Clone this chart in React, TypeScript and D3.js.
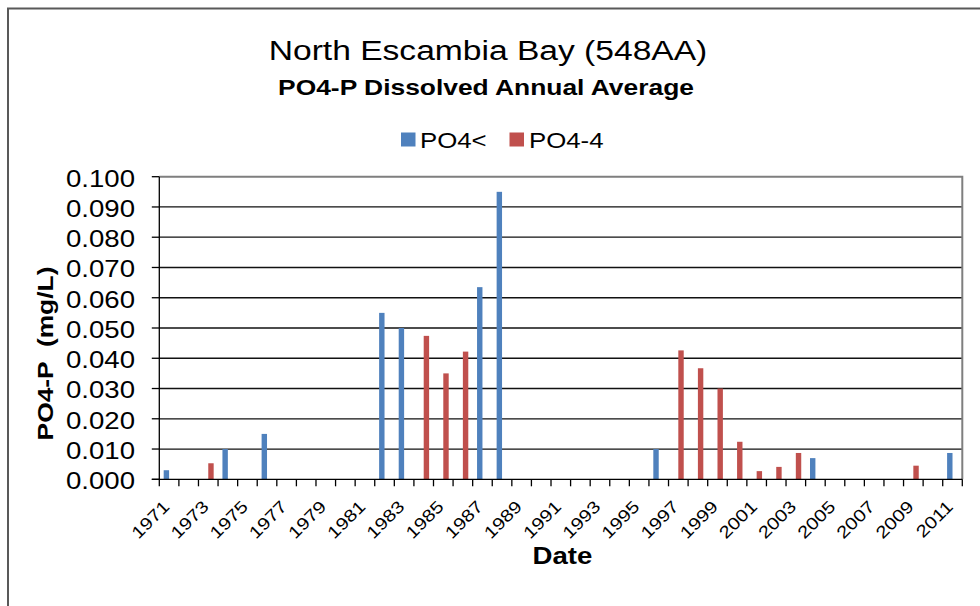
import { useEffect, useRef } from "react";
import * as d3 from "d3";

// categories: one per year, every other year labelled
const YEARS = [
  "1971", "1972", "1973", "1974", "1975", "1976", "1977", "1978", "1979", "1980",
  "1981", "1982", "1983", "1984", "1985", "1986", "1987", "1988", "1989", "1990",
  "1991", "1992", "1993", "1994", "1995", "1996", "1997", "1998", "1999", "2000",
  "2001", "2002", "2003", "2004", "2005", "2006", "2007", "2008", "2009", "2010", "2011",
];
const X_TICK_LABELS = [
  "1971", "1973", "1975", "1977", "1979", "1981", "1983", "1985", "1987", "1989", "1991",
  "1993", "1995", "1997", "1999", "2001", "2003", "2005", "2007", "2009", "2011",
];
const SERIES = ["PO4<", "PO4-4"];

// PO4< (below detection) annual averages
const LT_YEARS = ["1971", "1974", "1976", "1982", "1983", "1987", "1988", "1996", "2004", "2011"];
const LT_VALUES = [0.003, 0.01, 0.015, 0.055, 0.05, 0.0635, 0.095, 0.01, 0.007, 0.0087];

// PO4-4 annual averages
const P4_YEARS = ["1973", "1984", "1985", "1986", "1997", "1998", "1999", "2000", "2001", "2002", "2003", "2009"];
const P4_VALUES = [0.0053, 0.0474, 0.035, 0.0422, 0.0426, 0.0367, 0.03, 0.0124, 0.0027, 0.0041, 0.0087, 0.0045];

const Y_TICKS = [0, 0.01, 0.02, 0.03, 0.04, 0.05, 0.06, 0.07, 0.08, 0.09, 0.1];

const W = 980;
const H = 606;
const PLOT = { left: 159.3, right: 962.3, top: 176.7, bottom: 479.3 };
const COLORS: Record<string, string> = { "PO4<": "#4f81bd", "PO4-4": "#c0504d" };
const FONT = "'Liberation Sans', Arial, sans-serif";
// glyph runs in the source are wider than Arial at the same cap height
const SX = 1.2;

export default function App() {
  const svgRef = useRef<SVGSVGElement | null>(null);

  useEffect(() => {
    document.body.style.margin = "0";
    const svgEl = svgRef.current;
    if (!svgEl) return;
    const svg = d3.select(svgEl);
    svg.selectAll("*").remove();

    const x0 = d3.scaleBand<string>().domain(YEARS).range([PLOT.left, PLOT.right]).paddingInner(0);
    const x1 = d3
      .scaleBand<string>()
      .domain(SERIES)
      .range([0, x0.bandwidth()])
      .paddingInner(0)
      .paddingOuter(0.81);
    const y = d3.scaleLinear().domain([0, 0.1]).range([PLOT.bottom, PLOT.top]);

    const text = (
      g: d3.Selection<SVGGElement, unknown, null, undefined>,
      s: string,
      tx: number,
      ty: number,
      opts: { size: number; anchor?: string; weight?: string | number; rotate?: number }
    ) =>
      g
        .append("text")
        .text(s)
        .attr("transform", `translate(${tx},${ty}) rotate(${opts.rotate ?? 0}) scale(${SX},1)`)
        .attr("text-anchor", opts.anchor ?? "start")
        .attr("font-family", FONT)
        .attr("font-size", opts.size)
        .attr("font-weight", opts.weight ?? 400)
        .attr("fill", "#000");

    const root = svg.append("g");

    // outer chart frame (runs off the right and bottom edges)
    root
      .append("path")
      .attr("d", `M8,${H + 2} V8.5 H${W + 2}`)
      .attr("fill", "none")
      .attr("stroke", "#595959")
      .attr("stroke-width", 2);

    // titles
    text(root, "North Escambia Bay (548AA)", 488, 60, { size: 28, anchor: "middle" });
    text(root, "PO4-P Dissolved Annual Average", 486, 95, { size: 22, anchor: "middle", weight: 700 });

    // legend
    const legend = [
      { name: "PO4<", sx: 401, tx: 420 },
      { name: "PO4-4", sx: 509.5, tx: 529 },
    ];
    legend.forEach((l) => {
      root
        .append("rect")
        .attr("x", l.sx)
        .attr("y", 132.5)
        .attr("width", 14.5)
        .attr("height", 14)
        .attr("fill", COLORS[l.name]);
      text(root, l.name, l.tx, 147.5, { size: 21.5 });
    });

    // gridlines
    root
      .append("g")
      .selectAll("line")
      .data(Y_TICKS.filter((t) => t > 0 && t < 0.1))
      .enter()
      .append("line")
      .attr("x1", PLOT.left)
      .attr("x2", PLOT.right)
      .attr("y1", (d) => y(d))
      .attr("y2", (d) => y(d))
      .attr("stroke", "#111")
      .attr("stroke-width", 1.3);

    // bars
    const series = [
      { name: "PO4<", years: LT_YEARS, values: LT_VALUES },
      { name: "PO4-4", years: P4_YEARS, values: P4_VALUES },
    ];
    series.forEach((s) => {
      root
        .append("g")
        .selectAll("rect")
        .data(s.years.map((yr, i) => ({ yr, v: s.values[i] })))
        .enter()
        .append("rect")
        .attr("x", (d) => (x0(d.yr) ?? 0) + (x1(s.name) ?? 0))
        .attr("width", x1.bandwidth())
        .attr("y", (d) => y(d.v))
        .attr("height", (d) => y(0) - y(d.v))
        .attr("fill", COLORS[s.name]);
    });

    // plot area border top/right
    root
      .append("path")
      .attr("d", `M${PLOT.left},${PLOT.top} H${PLOT.right} V${PLOT.bottom}`)
      .attr("fill", "none")
      .attr("stroke", "#7f7f7f")
      .attr("stroke-width", 2);

    // y axis
    const yAxis = root.append("g");
    yAxis
      .append("line")
      .attr("x1", PLOT.left)
      .attr("x2", PLOT.left)
      .attr("y1", PLOT.top)
      .attr("y2", PLOT.bottom)
      .attr("stroke", "#000")
      .attr("stroke-width", 1.3);
    Y_TICKS.forEach((t) => {
      yAxis
        .append("line")
        .attr("x1", PLOT.left - 7.5)
        .attr("x2", PLOT.left)
        .attr("y1", y(t))
        .attr("y2", y(t))
        .attr("stroke", "#000")
        .attr("stroke-width", 1.3);
      text(yAxis, d3.format(".3f")(t), 135, y(t) + 9.9, { size: 23, anchor: "end" });
    });

    // x axis
    const xAxis = root.append("g");
    xAxis
      .append("line")
      .attr("x1", PLOT.left - 7.5)
      .attr("x2", PLOT.right)
      .attr("y1", PLOT.bottom)
      .attr("y2", PLOT.bottom)
      .attr("stroke", "#000")
      .attr("stroke-width", 1.3);
    const tickXs = YEARS.map((yr) => x0(yr) ?? 0).concat([PLOT.right]);
    tickXs.forEach((tx) => {
      xAxis
        .append("line")
        .attr("x1", tx)
        .attr("x2", tx)
        .attr("y1", PLOT.bottom)
        .attr("y2", PLOT.bottom + 7)
        .attr("stroke", "#000")
        .attr("stroke-width", 1.3);
    });
    X_TICK_LABELS.forEach((lab) => {
      const cx = (x0(lab) ?? 0) + x0.bandwidth() / 2;
      text(xAxis, lab, cx + 1.5, PLOT.bottom + 28.5, { size: 17, anchor: "end", rotate: -45 });
    });

    // axis titles
    text(root, "Date", 562.5, 564, { size: 23, anchor: "middle", weight: 700 });
    text(root, "PO4-P  (mg/L)", 53, 353.5, { size: 22, anchor: "middle", weight: 700, rotate: -90 }).attr(
      "xml:space",
      "preserve"
    );
  }, []);

  return (
    <svg
      ref={svgRef}
      width={W}
      height={H}
      style={{ display: "block", background: "#fff" }}
      role="img"
      aria-label="North Escambia Bay PO4-P dissolved annual average"
    />
  );
}
